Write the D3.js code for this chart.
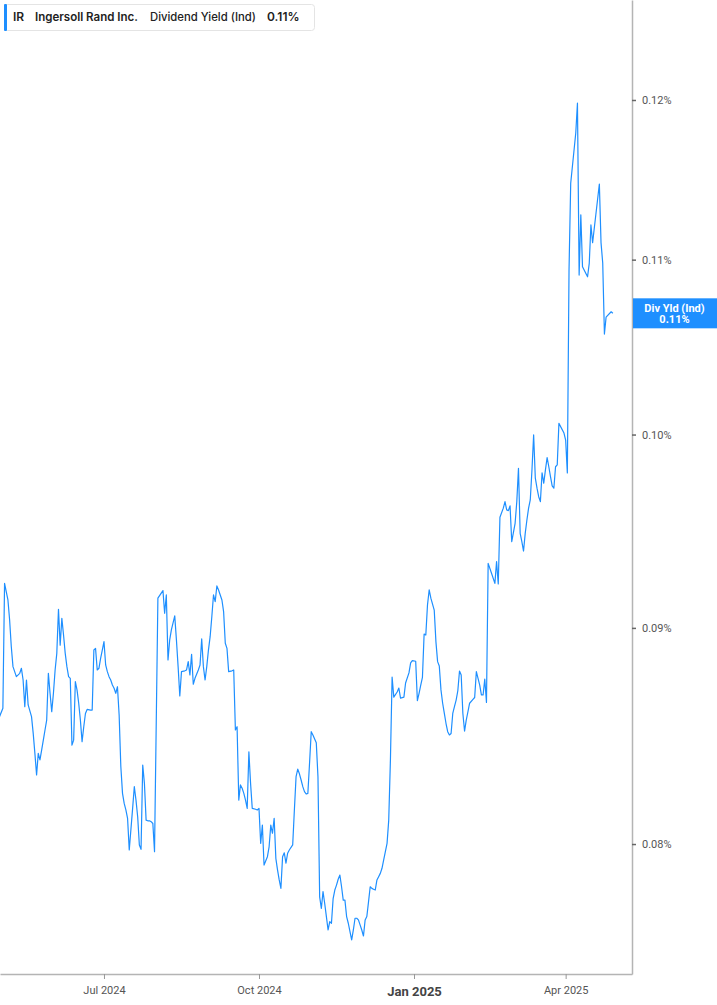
<!DOCTYPE html>
<html>
<head>
<meta charset="utf-8">
<script src="https://cdn.jsdelivr.net/npm/d3@7"></script>
<style>
  body { margin: 0; background: #fff; }
  svg { display: block; }
</style>
</head>
<body>
<div id="chart"></div>
<script>
const width = 717;
const height = 1005;
const plot = { left: 0, right: 632, top: 0, bottom: 974 };
const blue = "#1e8fff";

// labels
const ticker = "IR";
const company = "Ingersoll Rand Inc.";
const metric = "Dividend Yield (Ind)";
const tagLabel = "Div Yld (Ind)";

// daily dividend yield (%)
const dates = [
  "2024-04-30","2024-05-02","2024-05-03","2024-05-05","2024-05-06","2024-05-07","2024-05-08","2024-05-10",
  "2024-05-12","2024-05-13","2024-05-14","2024-05-15","2024-05-16","2024-05-17","2024-05-19","2024-05-20",
  "2024-05-21","2024-05-22","2024-05-23","2024-05-24","2024-05-25","2024-05-26","2024-05-27","2024-05-28",
  "2024-05-29","2024-05-30","2024-05-31","2024-06-01","2024-06-02","2024-06-03","2024-06-04","2024-06-05",
  "2024-06-06","2024-06-07","2024-06-08","2024-06-09","2024-06-10","2024-06-11","2024-06-12","2024-06-13",
  "2024-06-14","2024-06-15","2024-06-16","2024-06-17","2024-06-18","2024-06-19","2024-06-20","2024-06-21",
  "2024-06-23","2024-06-24","2024-06-25","2024-06-26","2024-06-27","2024-06-28","2024-06-29","2024-06-30",
  "2024-07-01","2024-07-02","2024-07-03","2024-07-04","2024-07-05","2024-07-06","2024-07-07","2024-07-08",
  "2024-07-09","2024-07-10","2024-07-11","2024-07-12","2024-07-13","2024-07-14","2024-07-15","2024-07-16",
  "2024-07-18","2024-07-19","2024-07-20","2024-07-21","2024-07-22","2024-07-23","2024-07-24","2024-07-25",
  "2024-07-26","2024-07-27","2024-07-28","2024-07-29","2024-07-30","2024-07-31","2024-08-02","2024-08-05",
  "2024-08-06","2024-08-07","2024-08-08","2024-08-09","2024-08-10","2024-08-12","2024-08-13","2024-08-14",
  "2024-08-15","2024-08-16","2024-08-18","2024-08-19","2024-08-20","2024-08-21","2024-08-22","2024-08-23",
  "2024-08-24","2024-08-26","2024-08-27","2024-08-28","2024-08-29","2024-08-30","2024-08-31","2024-09-01",
  "2024-09-02","2024-09-03","2024-09-04","2024-09-05","2024-09-06","2024-09-07","2024-09-08","2024-09-09",
  "2024-09-10","2024-09-11","2024-09-12","2024-09-13","2024-09-15","2024-09-16","2024-09-17","2024-09-18",
  "2024-09-19","2024-09-20","2024-09-21","2024-09-22","2024-09-23","2024-09-24","2024-09-25","2024-09-26",
  "2024-09-27","2024-09-29","2024-09-30","2024-10-01","2024-10-02","2024-10-03","2024-10-04","2024-10-06",
  "2024-10-07","2024-10-08","2024-10-09","2024-10-10","2024-10-11","2024-10-12","2024-10-13","2024-10-14",
  "2024-10-15","2024-10-16","2024-10-17","2024-10-18","2024-10-19","2024-10-21","2024-10-22","2024-10-23",
  "2024-10-24","2024-10-25","2024-10-26","2024-10-27","2024-10-28","2024-10-29","2024-10-30","2024-10-31",
  "2024-11-01","2024-11-02","2024-11-04","2024-11-05","2024-11-06","2024-11-07","2024-11-08","2024-11-09",
  "2024-11-10","2024-11-11","2024-11-12","2024-11-13","2024-11-14","2024-11-15","2024-11-16","2024-11-17",
  "2024-11-18","2024-11-19","2024-11-20","2024-11-21","2024-11-22","2024-11-23","2024-11-24","2024-11-25",
  "2024-11-26","2024-11-27","2024-11-28","2024-11-29","2024-11-30","2024-12-01","2024-12-02","2024-12-03",
  "2024-12-04","2024-12-05","2024-12-06","2024-12-07","2024-12-08","2024-12-09","2024-12-10","2024-12-11",
  "2024-12-12","2024-12-13","2024-12-14","2024-12-15","2024-12-16","2024-12-17","2024-12-18","2024-12-19",
  "2024-12-20","2024-12-22","2024-12-23","2024-12-24","2024-12-26","2024-12-27","2024-12-29","2024-12-30",
  "2024-12-31","2025-01-02","2025-01-03","2025-01-04","2025-01-05","2025-01-06","2025-01-07","2025-01-08",
  "2025-01-09","2025-01-10","2025-01-11","2025-01-13","2025-01-14","2025-01-15","2025-01-16","2025-01-17",
  "2025-01-18","2025-01-19","2025-01-20","2025-01-21","2025-01-22","2025-01-23","2025-01-24","2025-01-25",
  "2025-01-26","2025-01-27","2025-01-28","2025-01-29","2025-01-30","2025-01-31","2025-02-01","2025-02-02",
  "2025-02-03","2025-02-05","2025-02-06","2025-02-07","2025-02-08","2025-02-09","2025-02-10","2025-02-11",
  "2025-02-12","2025-02-13","2025-02-14","2025-02-16","2025-02-18","2025-02-19","2025-02-20","2025-02-21",
  "2025-02-23","2025-02-24","2025-02-25","2025-02-26","2025-02-27","2025-02-28","2025-03-02","2025-03-03",
  "2025-03-04","2025-03-05","2025-03-06","2025-03-07","2025-03-08","2025-03-09","2025-03-10","2025-03-11",
  "2025-03-12","2025-03-13","2025-03-14","2025-03-15","2025-03-16","2025-03-17","2025-03-18","2025-03-19",
  "2025-03-20","2025-03-21","2025-03-22","2025-03-23","2025-03-24","2025-03-25","2025-03-26","2025-03-27",
  "2025-03-28","2025-03-31","2025-04-01","2025-04-02","2025-04-03","2025-04-04","2025-04-07","2025-04-08",
  "2025-04-09","2025-04-10","2025-04-11","2025-04-14","2025-04-15","2025-04-16","2025-04-17","2025-04-21",
  "2025-04-22","2025-04-23","2025-04-24","2025-04-25","2025-04-28","2025-04-29"
];

const yields = [
  0.08575,0.08614,0.09221,0.09138,0.09039,0.08908,0.08812,0.08764,
  0.08780,0.08804,0.08748,0.08622,0.08748,0.08630,0.08575,0.08497,
  0.08405,0.08307,0.08405,0.08375,0.08420,0.08466,0.08513,0.08559,
  0.08780,0.08685,0.08598,0.08685,0.08796,0.08876,0.09092,0.08916,
  0.09047,0.08965,0.08876,0.08812,0.08764,0.08756,0.08443,0.08466,
  0.08740,0.08701,0.08638,0.08559,0.08459,0.08528,0.08590,0.08609,
  0.08606,0.08606,0.08892,0.08900,0.08796,0.08804,0.08852,0.08892,
  0.08933,0.08820,0.08788,0.08764,0.08748,0.08724,0.08709,0.08685,
  0.08716,0.08583,0.08345,0.08224,0.08179,0.08150,0.08113,0.07974,
  0.08157,0.08254,0.08194,0.08120,0.07996,0.07977,0.08352,0.08269,
  0.08105,0.08102,0.08102,0.08098,0.08090,0.07967,0.09147,0.09185,
  0.09072,0.09163,0.08844,0.08941,0.08990,0.09059,0.08941,0.08812,
  0.08672,0.08788,0.08792,0.08796,0.08836,0.08772,0.08871,0.08728,
  0.08756,0.08796,0.08820,0.08946,0.08812,0.08748,0.08812,0.08892,
  0.08957,0.09055,0.09163,0.09130,0.09208,0.09188,0.09163,0.09138,
  0.09080,0.08925,0.08900,0.08788,0.08792,0.08796,0.08513,0.08528,
  0.08194,0.08262,0.08247,0.08224,0.08194,0.08157,0.08412,0.08269,
  0.08157,0.08153,0.08150,0.08157,0.08003,0.08083,0.07909,0.07945,
  0.07988,0.08083,0.08047,0.08113,0.07938,0.07888,0.07845,0.07809,
  0.07945,0.07962,0.07917,0.07960,0.07974,0.07996,0.08150,0.08299,
  0.08333,0.08312,0.08284,0.08254,0.08232,0.08221,0.08224,0.08360,
  0.08505,0.08490,0.08454,0.08299,0.07773,0.07724,0.07795,0.07745,
  0.07690,0.07634,0.07669,0.07662,0.07766,0.07802,0.07823,0.07848,
  0.07866,0.07816,0.07759,0.07759,0.07690,0.07662,0.07627,0.07593,
  0.07634,0.07683,0.07683,0.07676,0.07655,0.07634,0.07609,0.07676,
  0.07690,0.07752,0.07816,0.07809,0.07805,0.07802,0.07845,0.07859,
  0.07873,0.07895,0.07931,0.07967,0.08003,0.08105,0.08375,0.08762,
  0.08667,0.08691,0.08710,0.08662,0.08667,0.08734,0.08782,0.08830,
  0.08841,0.08838,0.08650,0.08685,0.08724,0.08761,0.08970,0.08965,
  0.09113,0.09188,0.09147,0.09088,0.08933,0.08836,0.08815,0.08701,
  0.08638,0.08590,0.08543,0.08505,0.08490,0.08497,0.08590,0.08622,
  0.08653,0.08697,0.08791,0.08772,0.08590,0.08508,0.08559,0.08598,
  0.08638,0.08656,0.08665,0.08788,0.08756,0.08724,0.08677,0.08677,
  0.08752,0.08642,0.09322,0.09272,0.09221,0.09331,0.09218,0.09559,
  0.09607,0.09641,0.09598,0.09594,0.09619,0.09433,0.09528,0.09641,
  0.09818,0.09476,0.09433,0.09385,0.09476,0.09545,0.09607,0.09650,
  0.09809,0.09998,0.09765,0.09712,0.09667,0.09641,0.09794,0.09738,
  0.09809,0.09875,0.09826,0.09773,0.09724,0.09712,0.09826,0.09836,
  0.10061,0.10008,0.09970,0.09793,0.10938,0.11468,0.11786,0.11979,
  0.10908,0.11272,0.10958,0.10898,0.10978,0.11210,0.11102,0.11463,
  0.11101,0.10980,0.10563,0.10661,0.10692,0.10683
];

const yTicks = [0.08, 0.09, 0.10, 0.11, 0.12];
const xTicks = ["2024-07-01", "2024-10-01", "2025-01-01", "2025-04-01"];

const parseDate = d3.utcParse("%Y-%m-%d");
const data = dates.map((d, i) => ({ date: parseDate(d), value: yields[i] }));
const last = data[data.length - 1];
const fmtPct = d => d3.format(".2f")(d) + "%";

// Scales
const xScale = d3.scaleUtc()
    .domain([new Date(Date.UTC(2024, 3, 30, 7)), new Date(Date.UTC(2025, 4, 10, 9))])
    .range([plot.left, plot.right]);

const yScale = d3.scaleLog()
    .domain([0.07453, 0.12672])
    .range([plot.bottom, plot.top]);

const svg = d3.select("#chart")
    .append("svg")
    .attr("width", width)
    .attr("height", height)
    .style("font-family", "Roboto, 'Liberation Sans', sans-serif");

svg.append("defs").append("clipPath")
    .attr("id", "plot-clip")
    .append("rect")
    .attr("x", plot.left)
    .attr("y", plot.top)
    .attr("width", plot.right - plot.left)
    .attr("height", plot.bottom - plot.top);

// Line
const lineGenerator = d3.line()
    .x(d => xScale(d.date))
    .y(d => yScale(d.value));

svg.append("path")
    .datum(data)
    .attr("clip-path", "url(#plot-clip)")
    .attr("d", lineGenerator)
    .attr("fill", "none")
    .attr("stroke", blue)
    .attr("stroke-width", 1.2)
    .attr("stroke-linejoin", "round");

// Bottom axis
const xAxis = svg.append("g")
    .attr("transform", `translate(0,${plot.bottom})`)
    .call(d3.axisBottom(xScale)
        .tickValues(xTicks.map(parseDate))
        .tickSize(5)
        .tickSizeOuter(0)
        .tickFormat(d3.utcFormat("%b %Y")));

xAxis.select(".domain").attr("stroke", "#b4b4b4").attr("stroke-width", 1.5);
xAxis.selectAll(".tick line").attr("stroke", "#999");
xAxis.selectAll(".tick text")
    .attr("y", 12)
    .attr("fill", "#555")
    .attr("font-size", 11)
    .attr("font-family", "Roboto, sans-serif");
xAxis.selectAll(".tick text")
    .filter(d => d.getUTCMonth() === 0)
    .attr("y", 13)
    .attr("font-size", 13)
    .attr("font-weight", "bold")
    .attr("fill", "#444");

// Right axis
const yAxis = svg.append("g")
    .attr("transform", `translate(${plot.right},0)`)
    .call(d3.axisRight(yScale)
        .tickValues(yTicks)
        .tickSize(4)
        .tickPadding(6)
        .tickSizeOuter(0)
        .tickFormat(fmtPct));

yAxis.select(".domain").attr("stroke", "#b4b4b4").attr("stroke-width", 1.5);
yAxis.selectAll(".tick line").attr("stroke", "#666").attr("stroke-width", 1.5);
yAxis.selectAll(".tick text")
    .attr("fill", "#555")
    .attr("font-size", 11)
    .attr("font-family", "Roboto, sans-serif");

// Last value tag
const tagY = yScale(last.value);
const tag = svg.append("g");
tag.append("rect")
    .attr("x", plot.right + 1)
    .attr("y", tagY - 15)
    .attr("width", width - plot.right - 1)
    .attr("height", 30)
    .attr("fill", blue);
tag.append("text")
    .attr("x", (plot.right + width) / 2)
    .attr("y", tagY - 5)
    .attr("dy", "0.35em")
    .attr("text-anchor", "middle")
    .attr("fill", "#fff")
    .attr("font-size", 11)
    .attr("font-weight", "bold")
    .text(tagLabel);
tag.append("text")
    .attr("x", (plot.right + width) / 2)
    .attr("y", tagY + 6)
    .attr("dy", "0.35em")
    .attr("text-anchor", "middle")
    .attr("fill", "#fff")
    .attr("font-size", 11)
    .attr("font-weight", "bold")
    .text(fmtPct(last.value));

// Legend box
const legend = svg.append("g")
    .style("font-family", "Inter, 'Open Sans', sans-serif")
    .attr("fill", "#222");
legend.append("rect")
    .attr("x", 4.5)
    .attr("y", 4.5)
    .attr("width", 310)
    .attr("height", 26)
    .attr("rx", 3)
    .attr("fill", "#fff")
    .attr("stroke", "#e4e4e4");
legend.append("rect")
    .attr("x", 4)
    .attr("y", 4)
    .attr("width", 3)
    .attr("height", 27)
    .attr("rx", 1)
    .attr("fill", blue);

// each legend item: text, left edge, width it takes in the reference (if fitted), weight
const legendItems = [
    { text: ticker, x: 13, w: null, weight: 600 },
    { text: company, x: 35, w: 103, weight: 600 },
    { text: metric, x: 150, w: 106, weight: 500 },
    { text: fmtPct(last.value), x: 267, w: null, weight: 600 }
];

legend.selectAll("text")
    .data(legendItems)
    .enter()
    .append("text")
    .attr("x", d => d.x)
    .attr("y", 21)
    .attr("font-size", 12)
    .attr("font-weight", d => d.weight)
    .text(d => d.text)
    .each(function(d) {
        if (!d.w) return;
        // nudge the size so the run fits the same span as in the reference
        const measured = this.getComputedTextLength();
        if (measured > 0) {
            const size = Math.max(11, Math.min(13, 12 * d.w / measured));
            d3.select(this).attr("font-size", size);
        }
    });
</script>
</body>
</html>
